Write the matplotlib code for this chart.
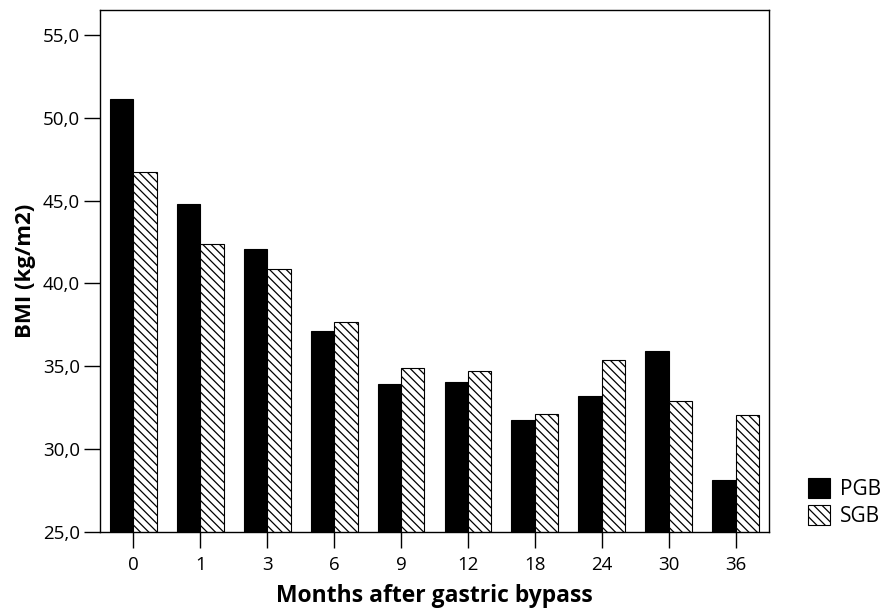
import numpy as np
import matplotlib.pyplot as plt
from matplotlib.patches import Patch

plt.rcParams['font.family'] = ['Open Sans', 'DejaVu Sans']
plt.rcParams['hatch.linewidth'] = 0.9

# BMI by months after gastric bypass
months = ["0", "1", "3", "6", "9", "12", "18", "24", "30", "36"]
pgb = [51.15, 44.8, 42.05, 37.1, 33.95, 34.05, 31.75, 33.2, 35.95, 28.15]
sgb = [46.75, 42.4, 40.9, 37.65, 34.9, 34.7, 32.15, 35.35, 32.9, 32.05]

fig = plt.figure(figsize=(8.95, 6.12), dpi=100)
ax = fig.add_axes([0.1117, 0.1307, 0.7475, 0.853])

x = np.arange(len(months))
w = 0.35
ax.bar(x - w / 2, pgb, w, color="black", edgecolor="black", linewidth=0.8)
ax.bar(x + w / 2, sgb, w, color="white", edgecolor="black", linewidth=0.8, hatch="\\\\\\\\")

ax.set_xlim(-0.5, len(months) - 0.5)
ax.set_ylim(25, 56.5)
ax.set_yticks([25, 30, 35, 40, 45, 50, 55])
ax.set_yticklabels(["25,0", "30,0", "35,0", "40,0", "45,0", "50,0", "55,0"])
ax.set_xticks(x)
ax.set_xticklabels(months)

for s in ax.spines.values():
    s.set_linewidth(1.0)
ax.tick_params(axis="both", direction="out", length=11.5, width=1.0, labelsize=13.5)
ax.tick_params(axis="x", pad=6)
ax.tick_params(axis="y", pad=3)

ax.set_xlabel("Months after gastric bypass", fontsize=16.5, fontweight="bold", labelpad=7)
ax.set_ylabel("BMI (kg/m2)", fontsize=16, fontweight="bold", labelpad=5)

handles = [Patch(facecolor="black", edgecolor="black", linewidth=0.8, label="PGB"),
           Patch(facecolor="white", edgecolor="black", linewidth=0.8, hatch="\\\\\\\\", label="SGB")]
ax.legend(handles=handles, loc="center left", bbox_to_anchor=(1.058, 0.056),
          frameon=False, fontsize=15, handlelength=1.05, handleheight=1.05,
          handletextpad=0.5, labelspacing=0.25, borderpad=0, borderaxespad=0)

fig.savefig("out.png", dpi=100)
